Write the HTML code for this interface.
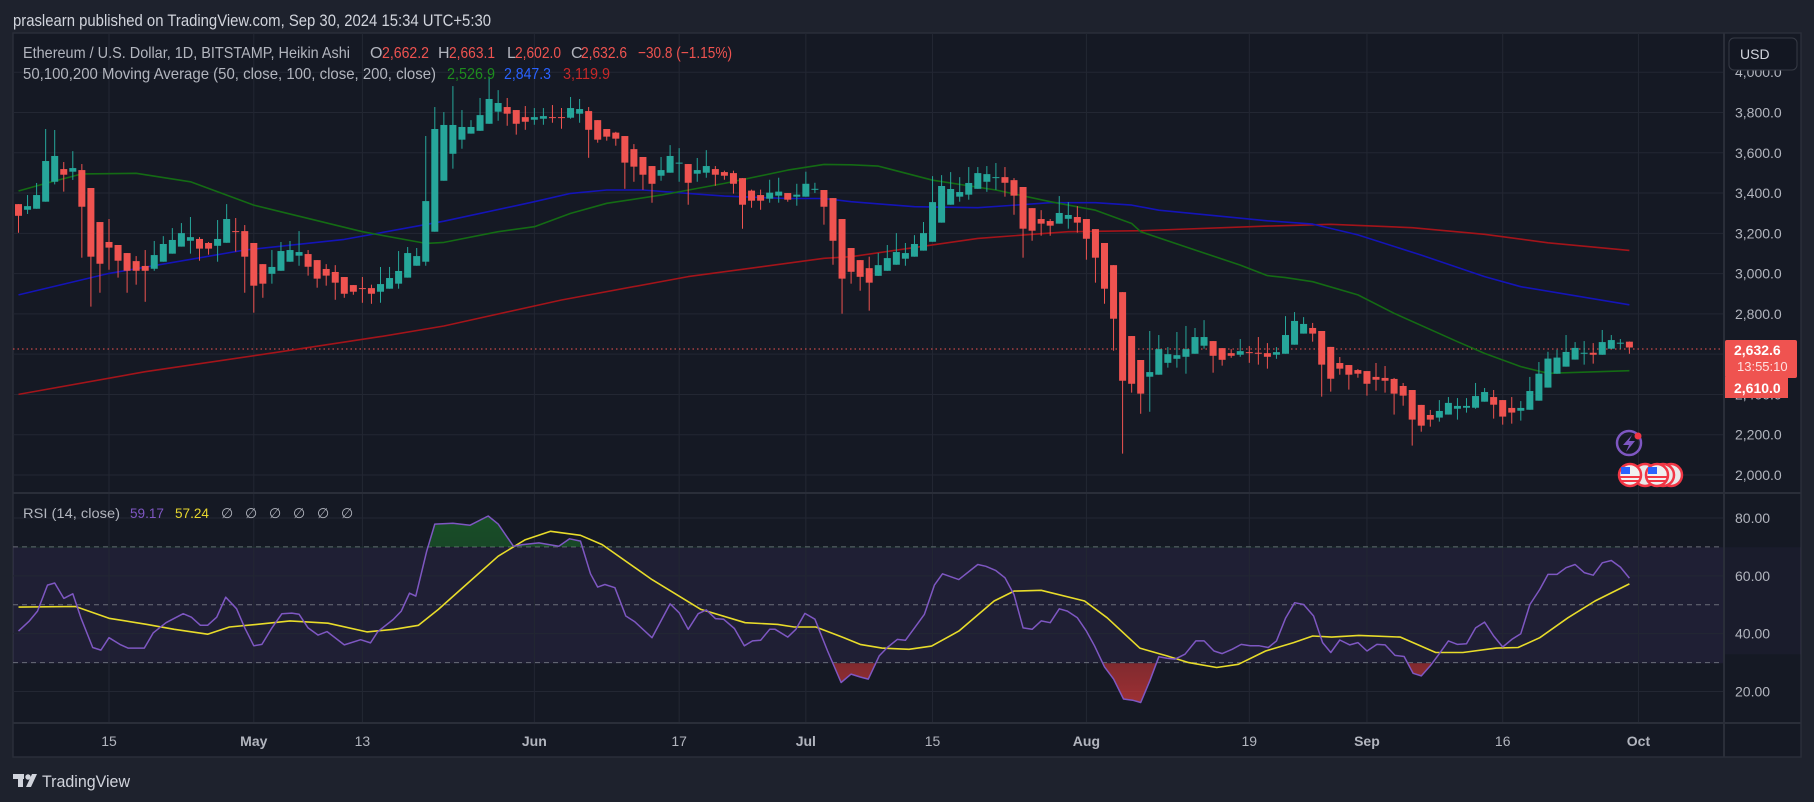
<!DOCTYPE html>
<html><head><meta charset="utf-8"><style>
html,body{margin:0;padding:0;background:#1e222d;}
svg{display:block;font-family:"Liberation Sans",sans-serif;}
</style></head><body>
<svg id="chart" width="1814" height="802" viewBox="0 0 1814 802" xmlns="http://www.w3.org/2000/svg">
<defs>
<clipPath id="priceClip"><rect x="13" y="33" width="1711" height="460"/></clipPath>
<clipPath id="rsiClip"><rect x="13" y="494" width="1711" height="229"/></clipPath>
<clipPath id="obClip"><rect x="13" y="494" width="1711" height="53.3"/></clipPath>
<clipPath id="osClip"><rect x="13" y="663.3" width="1711" height="60"/></clipPath>
<linearGradient id="obGrad" x1="0" y1="0" x2="0" y2="1"><stop offset="0" stop-color="#1b7a2a" stop-opacity="0.55"/><stop offset="1" stop-color="#1b7a2a" stop-opacity="0.1"/></linearGradient>
<linearGradient id="osGrad" x1="0" y1="0" x2="0" y2="1"><stop offset="0" stop-color="#b22b2b" stop-opacity="0.1"/><stop offset="1" stop-color="#d83a3a" stop-opacity="0.7"/></linearGradient>
</defs>
<rect x="0" y="0" width="1814" height="802" fill="#1e222d"/>
<text x="13" y="26" fill="#d1d4dc" font-size="17" textLength="478" lengthAdjust="spacingAndGlyphs">praslearn published on TradingView.com, Sep 30, 2024 15:34 UTC+5:30</text>
<rect x="13" y="33" width="1788" height="724" fill="#151924" stroke="#2a2e39" stroke-width="1.5"/>
<rect x="13" y="547.3" width="1711" height="116" fill="#7e57c2" fill-opacity="0.1"/>
<rect x="1724" y="547.3" width="77" height="107" fill="#7e57c2" fill-opacity="0.06"/>
<g id="grid"></g>
<g id="rsiGuides"></g>
<line x1="13" y1="349" x2="1724" y2="349" stroke="#ef5350" stroke-width="1" stroke-dasharray="1.5 3"/>
<g id="mas" clip-path="url(#priceClip)"></g>
<g id="candles" clip-path="url(#priceClip)"></g>
<g id="rsi" clip-path="url(#rsiClip)"></g>
<line x1="13" y1="493" x2="1801" y2="493" stroke="#2a2e39" stroke-width="2"/>
<line x1="13" y1="723" x2="1801" y2="723" stroke="#2a2e39" stroke-width="2"/>
<line x1="1724" y1="33" x2="1724" y2="757" stroke="#2a2e39" stroke-width="2"/>
<g id="axes"></g>
<text y="58" font-size="16"><tspan x="23" fill="#b2b5be" textLength="327" lengthAdjust="spacingAndGlyphs">Ethereum / U.S. Dollar, 1D, BITSTAMP, Heikin Ashi</tspan><tspan x="370" fill="#b2b5be">O</tspan><tspan x="382" fill="#ef5350" textLength="47" lengthAdjust="spacingAndGlyphs">2,662.2</tspan><tspan x="438" fill="#b2b5be">H</tspan><tspan x="449" fill="#ef5350" textLength="46" lengthAdjust="spacingAndGlyphs">2,663.1</tspan><tspan x="507" fill="#b2b5be">L</tspan><tspan x="515" fill="#ef5350" textLength="46" lengthAdjust="spacingAndGlyphs">2,602.0</tspan><tspan x="571" fill="#b2b5be">C</tspan><tspan x="581" fill="#ef5350" textLength="46" lengthAdjust="spacingAndGlyphs">2,632.6</tspan><tspan x="638" fill="#ef5350" textLength="94" lengthAdjust="spacingAndGlyphs">−30.8 (−1.15%)</tspan></text>
<text y="79" font-size="16"><tspan x="23" fill="#b2b5be" textLength="413" lengthAdjust="spacingAndGlyphs">50,100,200 Moving Average (50, close, 100, close, 200, close)</tspan><tspan x="447" fill="#1e8c1e" textLength="48" lengthAdjust="spacingAndGlyphs">2,526.9</tspan><tspan x="504" fill="#2962ff" textLength="47" lengthAdjust="spacingAndGlyphs">2,847.3</tspan><tspan x="563" fill="#c62828" textLength="47" lengthAdjust="spacingAndGlyphs">3,119.9</tspan></text>
<text y="518" font-size="14"><tspan x="23" fill="#b2b5be" textLength="97" lengthAdjust="spacingAndGlyphs">RSI (14, close)</tspan><tspan x="130" fill="#7e57c2" textLength="34" lengthAdjust="spacingAndGlyphs">59.17</tspan><tspan x="175" fill="#e6d62e" textLength="34" lengthAdjust="spacingAndGlyphs">57.24</tspan><tspan x="221" fill="#b2b5be">∅</tspan><tspan x="245" fill="#b2b5be">∅</tspan><tspan x="269" fill="#b2b5be">∅</tspan><tspan x="293" fill="#b2b5be">∅</tspan><tspan x="317" fill="#b2b5be">∅</tspan><tspan x="341" fill="#b2b5be">∅</tspan></text>
<g><rect x="1729" y="38" width="68" height="32" rx="5" fill="#131722" stroke="#363a45"/><text x="1740" y="59" fill="#d1d4dc" font-size="14">USD</text></g>
<g><rect x="1725" y="340" width="72" height="38" rx="2" fill="#ef5350"/><text x="1734" y="355" fill="#ffffff" font-size="14" font-weight="bold">2,632.6</text><text x="1737" y="371" fill="#fde0e0" font-size="13">13:55:10</text><rect x="1725" y="377" width="63" height="21" fill="#ef5350"/><text x="1734" y="393" fill="#ffffff" font-size="14" font-weight="bold">2,610.0</text></g>
<g><circle cx="1629" cy="443" r="12" fill="none" stroke="#7e57c2" stroke-width="2.5"/><path d="M1632 435 L1623 445 L1629 445 L1626 452 L1635 441 L1629 441 Z" fill="#7e57c2"/><circle cx="1638" cy="436" r="3.5" fill="#f23645"/></g>
<g>
<circle cx="1671" cy="475" r="11" fill="#e9e9e9" stroke="#f23645" stroke-width="2.5"/><circle cx="1663" cy="475" r="11" fill="#e9e9e9" stroke="#f23645" stroke-width="2.5"/><circle cx="1645" cy="475" r="11" fill="#e9e9e9" stroke="#f23645" stroke-width="2.5"/>
<circle cx="1630" cy="475" r="11" fill="#f0f0f0" stroke="#f23645" stroke-width="2.5"/><rect x="1621" y="467" width="9" height="7" fill="#2962ff"/><rect x="1620" y="476" width="20" height="2" fill="#f23645"/><rect x="1621" y="480" width="18" height="2" fill="#f23645"/>
<circle cx="1657" cy="475" r="11" fill="#f0f0f0" stroke="#f23645" stroke-width="2.5"/><rect x="1648" y="467" width="9" height="7" fill="#2962ff"/><rect x="1647" y="476" width="20" height="2" fill="#f23645"/><rect x="1648" y="480" width="18" height="2" fill="#f23645"/>
</g>
<g><rect x="13" y="774" width="11" height="5" fill="#d1d4dc"/><rect x="18" y="774" width="5" height="13" fill="#d1d4dc"/><circle cx="28" cy="777" r="2.7" fill="#d1d4dc"/><path d="M32 774 L37 774 L31 787 L26 787 Z" fill="#d1d4dc"/><text x="42" y="787" fill="#d1d4dc" font-size="17" textLength="88" lengthAdjust="spacingAndGlyphs">TradingView</text></g>
</svg>
<script>
var O=[3345,3317,3322,3357,3456,3519,3506,3514,3425,3256,3157,3142,3102,3062,3038,3024,3059,3099,3134,3163,3172,3152,3138,3153,3211,3211,3152,3047,2999,3014,3059,3089,3097,3067,3023,3008,2983,2943,2928,2928,2910,2925,2950,2980,3039,3059,3208,3461,3595,3665,3695,3709,3744,3804,3827,3812,3777,3764,3769,3777,3777,3774,3794,3807,3762,3718,3700,3683,3618,3579,3534,3486,3501,3546,3544,3496,3501,3519,3504,3499,3474,3412,3390,3372,3387,3400,3382,3382,3416,3415,3375,3271,3127,3067,3027,2989,3014,3044,3074,3084,3114,3158,3253,3342,3382,3392,3421,3456,3476,3479,3464,3430,3325,3271,3261,3248,3272,3281,3271,3221,3152,3042,2908,2690,2571,2488,2498,2557,2577,2587,2602,2642,2665,2630,2605,2597,2610,2607,2605,2597,2602,2647,2702,2730,2715,2636,2556,2546,2521,2516,2487,2482,2477,2442,2422,2348,2298,2285,2300,2329,2334,2334,2364,2387,2372,2333,2319,2324,2369,2434,2503,2538,2573,2602,2607,2597,2627,2652,2662];
var H=[3345,3390,3450,3718,3713,3554,3608,3544,3425,3256,3271,3142,3102,3087,3117,3162,3186,3226,3251,3281,3181,3157,3266,3345,3276,3241,3152,3047,3117,3157,3162,3211,3117,3067,3047,3042,2983,2943,2983,2945,3033,3033,3112,3132,3127,3683,3827,3802,3931,3812,3762,3872,3978,3911,3872,3812,3832,3822,3822,3837,3822,3877,3867,3827,3762,3718,3704,3683,3643,3579,3534,3579,3638,3623,3544,3574,3613,3534,3511,3511,3474,3417,3417,3466,3476,3400,3446,3506,3451,3415,3375,3271,3127,3067,3084,3102,3142,3201,3152,3191,3256,3484,3489,3504,3479,3529,3529,3534,3549,3529,3474,3430,3325,3315,3271,3385,3355,3335,3271,3221,3152,3042,2908,2690,2571,2715,2695,2635,2710,2740,2730,2769,2665,2630,2625,2675,2640,2685,2655,2635,2789,2809,2784,2755,2715,2636,2586,2546,2526,2516,2556,2541,2482,2457,2422,2348,2323,2372,2387,2382,2382,2457,2432,2422,2372,2387,2367,2487,2561,2612,2622,2695,2660,2665,2655,2720,2695,2675,2663];
var L=[3203,3296,3322,3357,3443,3407,3465,3079,2836,2905,3019,2980,2905,2945,2860,3014,3059,3099,3134,3099,3064,3094,3059,3153,3109,2905,2806,2880,2950,3014,3059,3039,2990,2930,2940,2870,2880,2895,2855,2850,2855,2925,2925,2980,3039,3039,3208,3461,3521,3620,3695,3709,3744,3759,3734,3690,3714,3739,3739,3749,3719,3769,3749,3575,3650,3660,3635,3421,3456,3416,3352,3461,3501,3456,3342,3456,3476,3436,3466,3397,3223,3327,3317,3352,3352,3357,3337,3382,3400,3243,3044,2801,2950,2915,2816,2989,3014,3044,3039,3084,3114,3158,3253,3342,3357,3367,3421,3406,3416,3382,3292,3079,3163,3188,3188,3248,3223,3203,3069,2955,2850,2617,2106,2409,2304,2314,2498,2533,2533,2503,2602,2627,2508,2543,2582,2587,2557,2548,2528,2577,2602,2647,2702,2662,2389,2414,2498,2424,2483,2394,2419,2409,2300,2344,2146,2215,2240,2265,2300,2275,2310,2329,2364,2280,2250,2255,2270,2324,2369,2434,2503,2538,2573,2548,2553,2597,2627,2627,2602];
var C=[3287,3335,3390,3559,3584,3491,3524,3332,3084,3049,3129,3064,3014,3014,3014,3092,3147,3167,3201,3181,3124,3124,3172,3271,3206,3084,2940,2950,3033,3112,3117,3107,3034,2975,2990,2955,2900,2910,2923,2900,2948,2978,3013,3102,3087,3360,3718,3738,3738,3728,3728,3787,3867,3847,3794,3744,3754,3777,3782,3774,3774,3822,3817,3714,3665,3680,3670,3551,3531,3491,3446,3514,3584,3551,3451,3514,3534,3491,3486,3446,3342,3362,3362,3402,3407,3367,3392,3446,3421,3332,3163,2975,3009,2984,2955,3042,3077,3107,3102,3147,3201,3355,3435,3420,3405,3450,3499,3494,3479,3451,3387,3223,3213,3248,3238,3301,3291,3253,3173,3079,2925,2776,2468,2453,2404,2511,2625,2600,2595,2625,2685,2685,2592,2572,2592,2615,2607,2602,2587,2610,2695,2765,2750,2702,2548,2478,2528,2498,2503,2453,2473,2468,2404,2394,2275,2245,2275,2318,2358,2343,2343,2392,2412,2349,2290,2310,2333,2417,2503,2578,2583,2611,2631,2607,2597,2660,2670,2657,2633];
var ma50Idx=[1,4,8,14,20,27,30,39,46,48,54,58,62,66,72,79,86,90,93,96,102,109,115,120,124,125,131,136,139,141,144,149,153,160,163,167,170,179];
var ma50=[3410,3448,3495,3498,3456,3340,3307,3208,3150,3155,3208,3233,3299,3349,3390,3448,3514,3542,3540,3534,3464,3415,3357,3315,3249,3208,3117,3042,2990,2980,2960,2894,2803,2662,2604,2538,2505,2518];
var ma100Idx=[1,11,26,37,48,58,62,66,70,75,79,86,90,93,100,107,115,120,124,127,139,144,149,156,163,167,179];
var ma100=[2894,3001,3117,3170,3260,3357,3398,3415,3415,3398,3385,3373,3373,3357,3332,3327,3352,3352,3340,3315,3262,3246,3192,3092,2985,2935,2845];
var ma200Idx=[1,15,30,41,48,61,75,90,93,107,117,125,139,146,155,163,170,179];
var ma200=[2400,2513,2612,2687,2740,2869,2985,3076,3084,3175,3208,3213,3236,3245,3228,3195,3153,3115];
var rsiIdx=[1,2.2,3.1,4.2,5,6,7,7.9,9.2,10.1,11,12.2,13.1,14.9,15.9,17.3,19.2,20.1,21.1,21.9,22.9,23.9,25.1,26,27,27.9,29,30.1,31.2,32,33,34.1,35.1,37,38.8,39.9,40.7,42.4,43.3,44.2,44.9,46.1,47,49,50.9,52.9,54,55.7,56.7,58.5,60.7,61.9,63.1,64.2,65,65.8,66.9,68.1,69.1,71,73,74,75,76.1,77,78,78.9,80.1,81.2,82.1,83,84,84.6,86,86.9,87.9,89,90.4,91.9,93,94,94.9,96.1,97,98.1,99,100,101.1,102.2,103.1,104.9,107,107.9,109,110,111,112,113,114,115,116,116.9,118,119,119.9,121,122,123.1,124.1,125,126,127,127.9,128.8,129.9,131.1,132,133.1,134,135.1,136.1,137.1,138.1,139.1,140,141,142,143,144.1,145.1,146,147,148.1,149,150,151.1,152,153.1,154.1,155.1,156,157,158,159,160,161,162,163,164,165,166,167,168,169.1,170,171,172,173,174,175,176,177,178,179];
var rsiVal=[40.9,44.4,47.8,56.8,57.5,52.2,53.8,45.5,35.2,34.3,38.6,36.3,35.0,35.0,40.3,43.8,46.9,45.7,42.9,42.9,45.7,52.6,48.6,42.0,35.8,36.3,42.0,46.9,47.1,46.7,42.0,39.5,40.7,36.1,37.9,36.8,40.7,44.9,47.8,54.0,53.0,68.5,77.9,78.2,77.5,80.7,77.9,70.2,70.8,71.4,70.2,72.8,72.0,60.7,56.1,57.0,55.9,46.1,44.1,38.6,50.3,47.2,41.5,46.9,48.2,45.2,45.0,41.8,35.8,37.5,37.7,41.5,41.5,38.8,41.5,47.0,45.0,34.0,23.1,26.0,25.0,24.3,32.3,35.2,38.0,37.7,42.0,46.7,56.8,60.7,58.7,63.9,63.3,61.8,59.3,53.5,42.0,41.5,44.4,43.8,48.6,47.8,45.5,40.9,35.8,28.5,24.3,17.4,17.0,16.2,23.7,32.0,31.5,31.2,32.9,37.5,37.5,34.0,33.1,34.6,36.3,35.8,35.8,35.2,37.5,45.3,50.7,50.1,46.1,36.9,33.5,37.8,36.1,36.9,34.0,36.3,36.1,32.5,32.1,26.3,25.4,28.9,33.1,37.5,36.3,36.5,42.0,44.0,39.2,35.4,38.0,40.0,50.1,55.3,60.5,60.5,62.8,63.9,61.1,60.2,64.5,65.3,63.0,59.2];
var rsiMaIdx=[1,7.3,11,15.2,18.2,21.9,24.3,27.3,31,35.2,39.5,42.5,45.2,47.4,50.4,54,57,59.8,63.1,65.5,71,76.4,81.3,84.9,86.7,89.1,92.2,94,96.4,99.4,101.9,104.9,108.8,111,114,118.8,121.3,124.9,127.9,130.3,133.4,135.8,138.8,141.9,144,146.1,149.1,153.7,157.6,160.6,164.3,166.7,169.1,172.2,175.2,179];
var rsiMa=[49.2,49.4,45.3,43.2,41.5,39.8,42.3,43.2,44.4,43.6,40.6,41.5,42.9,48.4,56.8,66.8,72.5,75.4,74.0,70.8,58.7,48.4,43.8,43.2,42.3,42.3,38.6,36.3,35.0,34.6,35.7,40.9,51.3,54.7,55.0,51.3,45.5,35.0,32.3,30.0,28.3,29.4,34.0,36.9,39.2,38.8,39.4,38.8,33.5,33.5,35.0,35.2,38.6,45.5,51.3,57.2];
var priceTicks=[2000,2200,2400,2600,2800,3000,3200,3400,3600,3800,4000];
var priceTickLabels=["2,000.0","2,200.0","2,400.0","2,600.0","2,800.0","3,000.0","3,200.0","3,400.0","3,600.0","3,800.0","4,000.0"];
var rsiTicks=[20,40,60,80];
var rsiTickLabels=["20.00","40.00","60.00","80.00"];
var rsiLevels=[30,50,70];
var timeTickIdx=[11,27,39,58,74,88,102,119,137,150,165,180];
var timeTickLabels=["15","May","13","Jun","17","Jul","15","Aug","19","Sep","16","Oct"];
var timeTickMonth=[0,1,0,1,0,1,0,1,0,1,0,1];

var NS="http://www.w3.org/2000/svg";
function xOf(i){return 18.5+(i-1)*9.05;}
function yP(p){return 475-(p-2000)*0.2014;}
function yR(v){return 691.5-(v-20)*2.892;}
function mk(tag,attrs,parent){var e=document.createElementNS(NS,tag);for(var k in attrs)e.setAttribute(k,attrs[k]);parent.appendChild(e);return e;}
var grid=document.getElementById('grid'),axes=document.getElementById('axes');
priceTicks.forEach(function(p,k){
  var l=mk('line',{x1:13,x2:1724,y1:yP(p),y2:yP(p),stroke:'#232733','stroke-width':1},grid);
  
  
  var t=mk('text',{x:1735,y:yP(p)+5,fill:'#b2b5be','font-size':14},axes);
  t.textContent=priceTickLabels[k];
  
  
});
rsiTicks.forEach(function(v,k){
  var l=mk('line',{x1:13,x2:1724,y1:yR(v),y2:yR(v),stroke:'#232733','stroke-width':1},grid);
  
  
  var t=mk('text',{x:1735,y:yR(v)+5,fill:'#b2b5be','font-size':14},axes);
  t.textContent=rsiTickLabels[k];
  
  
});
var guides=document.getElementById('rsiGuides');
rsiLevels.forEach(function(v){
  var l=mk('line',{x1:13,x2:1724,y1:yR(v),y2:yR(v),stroke:'#6a6d78','stroke-width':1,'stroke-dasharray':'5 4'},guides);
  
  
});
timeTickIdx.forEach(function(i,k){
  var x=xOf(i);
  var l=mk('line',{x1:x,x2:x,y1:33,y2:723,stroke:'#232733','stroke-width':1},grid);
  
  
  var t=mk('text',{x:x,y:746,fill:'#b2b5be','font-size':14,'text-anchor':'middle','font-weight':timeTickMonth[k]?'bold':'normal'},axes);
  t.textContent=timeTickLabels[k];
  
  
});
var cg=document.getElementById('candles');
for(var i=0;i<C.length;i++){
  var up=C[i]>=O[i],col=up?'#26a69a':'#ef5350',x=xOf(i+1);
  var g=mk('g',{},cg);
  
  
  mk('line',{x1:x,x2:x,y1:yP(H[i]),y2:yP(L[i]),stroke:col,'stroke-width':1},g);
  var t=yP(Math.max(O[i],C[i])),b=yP(Math.min(O[i],C[i]));
  mk('rect',{x:x-3.5,y:t,width:7,height:Math.max(1,b-t),fill:col},g);
}
var mg=document.getElementById('mas');
function line(idx,vals,yf,col,w,parent,name){
  var pts=idx.map(function(i,k){return xOf(i).toFixed(1)+','+yf(vals[k]).toFixed(1);}).join(' ');
  var p=mk('polyline',{points:pts,fill:'none',stroke:col,'stroke-width':w,'stroke-linejoin':'round'},parent);
  
  
  return pts;
}
line(ma200Idx,ma200,yP,'#a3141a',1.6,mg,'ma200-line');
line(ma100Idx,ma100,yP,'#1414b8',1.6,mg,'ma100-line');
line(ma50Idx,ma50,yP,'#146b14',1.6,mg,'ma50-line');
var rg=document.getElementById('rsi');
var x0=xOf(rsiIdx[0]),x1=xOf(rsiIdx[rsiIdx.length-1]);
var rpts=rsiIdx.map(function(i,k){return xOf(i).toFixed(1)+','+yR(rsiVal[k]).toFixed(1);}).join(' ');
var ob=mk('polygon',{points:rpts+' '+x1+','+yR(70)+' '+x0+','+yR(70),fill:'url(#obGrad)','clip-path':'url(#obClip)'},rg);


var os=mk('polygon',{points:rpts+' '+x1+','+yR(30)+' '+x0+','+yR(30),fill:'url(#osGrad)','clip-path':'url(#osClip)'},rg);


line(rsiMaIdx,rsiMa,yR,'#e8dc2a',1.6,rg,'rsi-ma-line');
line(rsiIdx,rsiVal,yR,'#7e57c2',1.5,rg,'rsi-line');
</script>
</body></html>
